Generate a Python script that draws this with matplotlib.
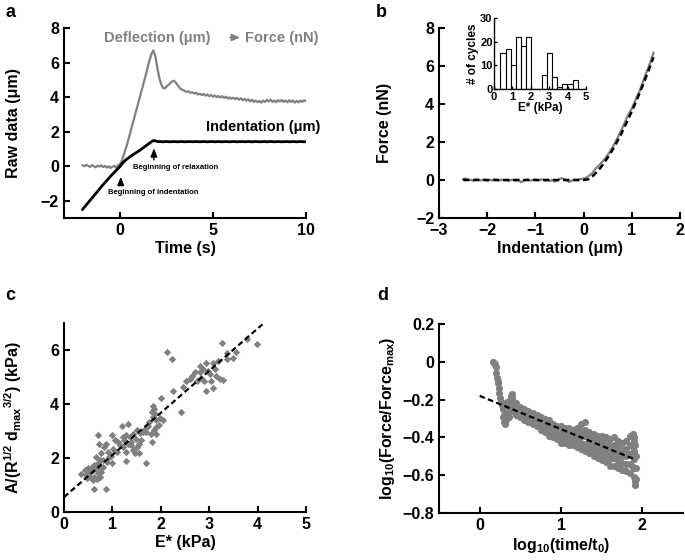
import numpy as np
import matplotlib
matplotlib.use("Agg")
import matplotlib.pyplot as plt

plt.rcParams["font.family"] = ["Liberation Sans", "DejaVu Sans"]
plt.rcParams["font.weight"] = "bold"
plt.rcParams["axes.labelweight"] = "bold"
plt.rcParams["mathtext.fontset"] = "custom"
plt.rcParams["mathtext.rm"] = "Liberation Sans:bold"
plt.rcParams["mathtext.it"] = "Liberation Sans:bold"
plt.rcParams["mathtext.bf"] = "Liberation Sans:bold"

GRAY = "#808080"

# ---- panel a: raw data vs time (sampled every 0.1 s) ----
time_a = np.round(np.arange(-2.0, 10.01, 0.1), 1)
deflection = [
    0.05, 0.0, 0.08, 0.02, -0.04, 0.06, 0.0, -0.07, 0.03, -0.02,
    0.05, -0.05, 0.02, -0.08, 0.0, -0.1, -0.03, 0.02, -0.09, 0.05, 0.1,
    0.3, 0.6, 0.95, 1.3, 1.7, 2.1, 2.5, 2.9, 3.3, 3.7,
    4.1, 4.5, 4.9, 5.3, 5.75, 6.15, 6.5,
    6.7, 6.4, 5.8, 5.2, 4.8, 4.55, 4.5, 4.6, 4.7, 4.8, 4.9, 4.95, 4.85,
    4.7, 4.55, 4.45, 4.4, 4.35, 4.3, 4.33, 4.25, 4.28, 4.2,
    4.25, 4.15, 4.2, 4.12, 4.18, 4.08, 4.15, 4.05, 4.12, 4.02,
    4.1, 4.0, 4.06, 3.98, 4.05, 3.95, 4.02, 3.92, 3.98, 3.9,
    3.97, 3.88, 3.95, 3.85, 3.93, 3.82, 3.9, 3.8, 3.87, 3.75,
    3.85, 3.72, 3.8, 3.7, 3.78, 3.68, 3.8, 3.72, 3.83, 3.75,
    3.85, 3.72, 3.8, 3.7, 3.82, 3.74, 3.83, 3.72, 3.8, 3.7,
    3.82, 3.72, 3.8, 3.68, 3.78, 3.7, 3.8, 3.72, 3.82, 3.76,
]
indentation = [
    -2.5, -2.37, -2.24, -2.11, -1.98, -1.85, -1.72, -1.59, -1.46, -1.33,
    -1.2, -1.07, -0.95, -0.83, -0.71, -0.59, -0.47, -0.36, -0.25, -0.14, -0.03,
    0.12, 0.24, 0.34, 0.43, 0.51, 0.59, 0.66, 0.73, 0.8, 0.87,
    0.94, 1.02, 1.1, 1.18, 1.26, 1.34, 1.42,
    1.48, 1.47, 1.44, 1.42, 1.43, 1.41, 1.42, 1.43, 1.42, 1.41, 1.42, 1.43, 1.42,
    1.41, 1.42, 1.43, 1.42, 1.41, 1.42, 1.42, 1.43, 1.41, 1.42,
    1.43, 1.42, 1.41, 1.42, 1.43, 1.42, 1.41, 1.42, 1.42, 1.43,
    1.41, 1.42, 1.43, 1.42, 1.41, 1.42, 1.43, 1.42, 1.41, 1.42,
    1.43, 1.42, 1.41, 1.42, 1.42, 1.43, 1.41, 1.42, 1.43, 1.42,
    1.41, 1.42, 1.43, 1.42, 1.41, 1.42, 1.42, 1.43, 1.41, 1.42,
    1.43, 1.42, 1.41, 1.42, 1.43, 1.42, 1.41, 1.42, 1.42, 1.43,
    1.41, 1.42, 1.43, 1.42, 1.41, 1.42, 1.43, 1.42, 1.41, 1.42,
]

# ---- panel b: force vs indentation ----
indent_b = np.round(np.arange(-2.5, 1.451, 0.05), 2)
force_b = [
    0.05, 0.08, 0.02, 0.0, -0.03, 0.02, 0.04, -0.02, 0.0, 0.03,
    -0.04, 0.01, -0.02, 0.03, 0.0, -0.03, 0.02, -0.01, 0.0, -0.05,
    0.02, 0.0, -0.03, 0.01, -0.12, -0.05, 0.0, 0.02, -0.04, 0.01,
    0.03, -0.02, 0.0, 0.04, -0.03, 0.02, -0.05, 0.0, -0.08, -0.03,
    0.05, 0.1, 0.04, -0.02, -0.1, -0.04, 0.02, 0.0, 0.03, 0.05, 0.08,
    0.12, 0.2, 0.3, 0.42, 0.6, 0.72, 0.85, 1.0, 1.15, 1.32,
    1.5, 1.72, 1.95, 2.2, 2.45, 2.72, 3.0, 3.3, 3.55, 3.75,
    4.05, 4.35, 4.6, 4.95, 5.3, 5.65, 5.95, 6.3, 6.7,
]
fit_b_x = [-2.5, -2.0, -1.5, -1.0, -0.5, 0.0, 0.1, 0.2, 0.3, 0.4, 0.5, 0.6,
           0.7, 0.8, 0.9, 1.0, 1.1, 1.2, 1.3, 1.4, 1.45]
fit_b_y = [0, 0, 0, 0, 0, 0, 0.04, 0.23, 0.49, 0.81, 1.18, 1.59,
           2.04, 2.53, 3.06, 3.61, 4.2, 4.81, 5.45, 6.12, 6.46]

# inset histogram of E*
hist_left = [0.35, 0.63, 0.91, 1.19, 1.47, 1.75, 2.03, 2.31, 2.59, 2.87,
             3.15, 3.43, 3.71, 3.99, 4.27]
hist_count = [15, 17, 10, 22, 18, 22, 0, 0, 6, 15, 5, 1, 2, 2, 4]
hist_width = 0.28

# ---- panel c: A/(R^1/2 dmax^3/2) vs E* ----
c_x = [2.12, 2.24, 2.41, 1.70, 0.62, 0.86, 3.98, 3.79, 3.26, 3.55, 3.36,
       2.94, 3.08, 3.19, 2.81, 2.70, 2.60, 2.53, 2.45, 2.26, 2.94, 3.08, 3.22,
       3.28, 2.89, 2.84, 3.01, 3.12, 2.81, 2.98, 2.74, 2.64, 2.88, 3.15, 3.04,
       3.37, 3.50,
       2.00, 1.83, 1.86, 1.81, 1.88, 1.91, 1.98, 2.05, 1.83, 1.76, 1.74, 1.67,
       1.91, 1.86, 1.79, 1.91, 1.97, 1.70, 1.81, 1.63,
       1.32, 1.19, 1.50, 1.57, 1.43, 1.36, 1.28, 1.21, 1.12, 1.05, 1.15, 1.23,
       1.32, 1.39, 1.48, 1.55, 1.60, 1.50, 1.43, 1.39, 1.29, 1.22, 1.10, 1.01,
       1.28, 1.46, 1.55, 1.00, 0.98,
       0.70, 0.72, 0.86, 0.82, 0.91, 0.77, 0.94, 0.89, 1.00, 0.81, 0.70, 0.63,
       0.57, 0.50, 0.36, 0.45, 0.53, 0.60, 0.67, 0.74, 0.77, 0.70, 0.63, 0.69,
       0.60, 0.53, 0.74, 0.81, 0.43, 0.48, 0.74, 0.67]
c_y = [5.92, 5.65, 3.70, 1.82, 0.86, 0.84, 6.23, 6.39, 6.27, 5.94, 5.90,
       5.53, 5.53, 5.60, 5.19, 5.17, 4.92, 4.86, 4.64, 4.47, 4.50, 4.58, 4.92,
       4.88, 4.86, 4.98, 5.10, 5.29, 5.40, 5.23, 4.86, 5.04, 5.29, 5.04, 4.86,
       5.68, 5.72,
       4.22, 3.94, 3.82, 3.70, 3.64, 3.39, 3.49, 3.42, 3.51, 3.33, 3.17, 3.06,
       3.15, 3.05, 2.90, 2.88, 3.23, 2.96, 2.59, 2.96,
       3.27, 3.17, 3.05, 2.93, 2.90, 2.78, 2.84, 2.78, 2.59, 2.68, 2.47, 2.66,
       2.53, 2.59, 2.72, 2.53, 2.68, 2.41, 2.29, 2.47, 2.23, 2.41, 2.23, 2.35,
       1.88, 2.17, 2.17, 2.84, 2.07,
       2.84, 2.53, 2.53, 2.41, 2.23, 2.17, 2.04, 1.86, 1.82, 1.92, 1.80, 1.74,
       1.68, 1.64, 1.40, 1.37, 1.49, 1.55, 1.62, 1.68, 1.49, 1.43, 1.31, 1.21,
       1.19, 1.29, 1.31, 1.68, 1.55, 1.25, 1.92, 2.04]
c_fit_x = [0.0, 4.1]
c_fit_y = [0.55, 6.95]

# ---- panel d: log force vs log time ----
d_early_x = [0.165, 0.175, 0.186, 0.195, 0.206, 0.214, 0.22, 0.227, 0.235,
             0.243, 0.25, 0.26, 0.27, 0.29, 0.30, 0.31, 0.32, 0.30, 0.33,
             0.35, 0.37, 0.39, 0.36, 0.28, 0.31, 0.34, 0.38, 0.33, 0.29,
             0.36, 0.40, 0.42]
d_early_y = [0.0, -0.005, -0.014, -0.03, -0.058, -0.084, -0.1, -0.11, -0.137,
             -0.163, -0.19, -0.215, -0.22, -0.25, -0.28, -0.30, -0.31, -0.32,
             -0.27, -0.23, -0.20, -0.18, -0.26, -0.23, -0.33, -0.21, -0.22,
             -0.24, -0.29, -0.29, -0.17, -0.21]
d_x = [0.40, 0.45, 0.50, 0.55, 0.60, 0.65, 0.70, 0.75, 0.80, 0.85, 0.90,
       0.95, 1.00, 1.05, 1.10, 1.15, 1.20, 1.25, 1.30, 1.35, 1.40, 1.45,
       1.50, 1.55, 1.60, 1.65, 1.70, 1.75, 1.80, 1.85, 1.90]
d_hi = [-0.19, -0.22, -0.24, -0.25, -0.26, -0.27, -0.28, -0.29, -0.30, -0.31,
        -0.33, -0.34, -0.34, -0.35, -0.35, -0.36, -0.35, -0.33, -0.32, -0.37,
        -0.38, -0.39, -0.39, -0.40, -0.41, -0.40, -0.42, -0.43, -0.42, -0.39,
        -0.42]
d_q1 = [-0.21, -0.235, -0.25, -0.265, -0.275, -0.285, -0.295, -0.31, -0.32,
        -0.33, -0.35, -0.36, -0.365, -0.37, -0.37, -0.38, -0.375, -0.365,
        -0.36, -0.40, -0.41, -0.42, -0.42, -0.435, -0.445, -0.44, -0.455,
        -0.465, -0.46, -0.44, -0.47]
d_mid = [-0.225, -0.25, -0.265, -0.28, -0.29, -0.30, -0.31, -0.325, -0.335,
         -0.35, -0.365, -0.375, -0.385, -0.39, -0.395, -0.40, -0.40, -0.395,
         -0.395, -0.425, -0.44, -0.45, -0.455, -0.465, -0.48, -0.475, -0.49,
         -0.50, -0.50, -0.49, -0.515]
d_q3 = [-0.245, -0.265, -0.28, -0.295, -0.305, -0.315, -0.325, -0.345, -0.355,
        -0.37, -0.385, -0.395, -0.41, -0.41, -0.42, -0.42, -0.425, -0.43,
        -0.435, -0.455, -0.47, -0.48, -0.49, -0.50, -0.515, -0.51, -0.525,
        -0.535, -0.54, -0.54, -0.56]
d_lo = [-0.26, -0.28, -0.29, -0.31, -0.32, -0.33, -0.34, -0.36, -0.37, -0.39,
        -0.40, -0.41, -0.43, -0.43, -0.44, -0.44, -0.45, -0.46, -0.47, -0.48,
        -0.50, -0.51, -0.52, -0.53, -0.55, -0.55, -0.56, -0.57, -0.58, -0.59,
        -0.61]
d_tail_x = [1.91, 1.91, 1.92, 1.90, 1.88, 1.89, 1.87, 1.92, 1.92, 1.91]
d_tail_y = [-0.63, -0.65, -0.62, -0.40, -0.38, -0.45, -0.55, -0.56, -0.50,
            -0.44]
d_fit_x = [0.0, 1.9]
d_fit_y = [-0.18, -0.515]


def style(ax, lw=1.5, size=11.5, length=4):
    for s in ["top", "right"]:
        ax.spines[s].set_visible(False)
    for s in ["left", "bottom"]:
        ax.spines[s].set_linewidth(lw)
    ax.tick_params(direction="in", length=length, width=lw, labelsize=size)
    for lab in ax.get_xticklabels() + ax.get_yticklabels():
        lab.set_fontweight("bold")


fig = plt.figure(figsize=(6.85, 5.6), dpi=100)

# panel a
ax = fig.add_axes([0.0934, 0.6107, 0.3533, 0.3393])
ax.plot(time_a, deflection, color=GRAY, lw=1.6)
ax.plot(time_a, indentation, color="black", lw=2)
ax.set_xlim(-3, 10)
ax.set_ylim(-3, 8)
ax.set_xticks([0, 5, 10])
ax.set_yticks([-2, 0, 2, 4, 6, 8])
style(ax)
ax.set_xlabel("Time (s)", fontsize=11.5, labelpad=2)
ax.set_ylabel("Raw data (μm)", fontsize=11.5, labelpad=14)
ax.text(-0.86, 7.45, "Deflection (μm)", color=GRAY, fontsize=10.5,
        fontweight="bold", va="center", ha="left")
ax.annotate("", xy=(6.6, 7.45), xytext=(5.75, 7.45),
            arrowprops=dict(arrowstyle="-|>,head_length=0.5,head_width=0.22",
                            color=GRAY, lw=1))
ax.text(6.72, 7.45, "Force (nN)", color=GRAY, fontsize=10.5,
        fontweight="bold", va="center", ha="left", clip_on=False)
ax.text(4.62, 2.24, "Indentation (μm)", color="black", fontsize=10.5,
        fontweight="bold", va="center", ha="left", clip_on=False)
ax.annotate("", xy=(1.83, 1.2), xytext=(1.83, 0.2),
            arrowprops=dict(arrowstyle="-|>,head_length=0.5,head_width=0.2",
                            color="black", lw=1))
ax.text(0.7, -0.08, "Beginning of relaxation", fontsize=5.5,
        fontweight="bold", va="center", ha="left")
ax.annotate("", xy=(0.05, -0.45), xytext=(0.05, -1.25),
            arrowprops=dict(arrowstyle="-|>,head_length=0.5,head_width=0.2",
                            color="black", lw=1))
ax.text(-0.65, -1.53, "Beginning of indentation", fontsize=5.5,
        fontweight="bold", va="center", ha="left")

# panel b
ax = fig.add_axes([0.6409, 0.6107, 0.3518, 0.3393])
ax.plot(indent_b, force_b, color=GRAY, lw=1.6)
ax.plot(fit_b_x, fit_b_y, color="black", lw=1.8, ls=(0, (2.5, 1.5)))
ax.set_xlim(-3, 2)
ax.set_ylim(-2, 8)
ax.set_xticks([-3, -2, -1, 0, 1, 2])
ax.set_yticks([-2, 0, 2, 4, 6, 8])
style(ax)
ax.set_xlabel("Indentation (μm)", fontsize=11.5, labelpad=2)
ax.set_ylabel("Force (nN)", fontsize=11.5, labelpad=17)

# inset
ins = fig.add_axes([0.7212, 0.8411, 0.1343, 0.1268])
ins.bar(hist_left, hist_count, width=hist_width, align="edge",
        facecolor="white", edgecolor="black", lw=0.8)
ins.set_xlim(0, 5)
ins.set_ylim(0, 30)
ins.set_xticks([0, 1, 2, 3, 4, 5])
ins.set_yticks([0, 10, 20, 30])
style(ins, lw=1, size=8, length=2.5)
ins.tick_params(axis="x", pad=2)
ins.tick_params(axis="y", pad=1)
ins.set_xlabel("E* (kPa)", fontsize=8.5, labelpad=0)
ins.set_ylabel("# of cycles", fontsize=8.5, labelpad=1)

# panel c
ax = fig.add_axes([0.0934, 0.0857, 0.3533, 0.3375])
ax.scatter(c_x, c_y, marker="D", s=14, color=GRAY, lw=0)
ax.plot(c_fit_x, c_fit_y, color="black", lw=1.6, ls=(0, (2.5, 1.5)))
ax.set_xlim(0, 5)
ax.set_ylim(0, 7)
ax.set_xticks([0, 1, 2, 3, 4, 5])
ax.set_yticks([0, 2, 4, 6])
style(ax)
ax.set_xlabel("E* (kPa)", fontsize=11.5, labelpad=2)
ax.set_ylabel("A/(R$^{1/2}$ d$_{max}{}^{3/2}$) (kPa)", fontsize=11.5,
              labelpad=19)

# panel d
ax = fig.add_axes([0.6409, 0.0839, 0.3562, 0.3375])
for xs, ys in [(d_early_x, d_early_y), (d_x, d_hi), (d_x, d_q1), (d_x, d_mid),
               (d_x, d_q3), (d_x, d_lo), (d_tail_x, d_tail_y)]:
    ax.scatter(xs, ys, s=26, color=GRAY, lw=0)
ax.plot(d_fit_x, d_fit_y, color="black", lw=1.6, ls=(0, (2.5, 1.5)))
ax.set_xlim(-0.5, 2.5)
ax.set_ylim(-0.8, 0.2)
ax.set_xticks([0, 1, 2])
ax.set_yticks([-0.8, -0.6, -0.4, -0.2, 0, 0.2])
ax.set_yticklabels(["\u22120.8", "\u22120.6", "\u22120.4", "\u22120.2", "0", "0.2"])
style(ax)
ax.set_xlabel("log$_{10}$(time/t$_0$)", fontsize=11.5, labelpad=2)
ax.set_ylabel("log$_{10}$(Force/Force$_{max}$)", fontsize=11.5, labelpad=4)

for lab, x, y in [("a", 0.008, 0.978), ("b", 0.548, 0.978),
                  ("c", 0.008, 0.473), ("d", 0.551, 0.473)]:
    fig.text(x, y, lab, fontsize=13, fontweight="bold", va="center")

fig.savefig("out.png", dpi=100)
